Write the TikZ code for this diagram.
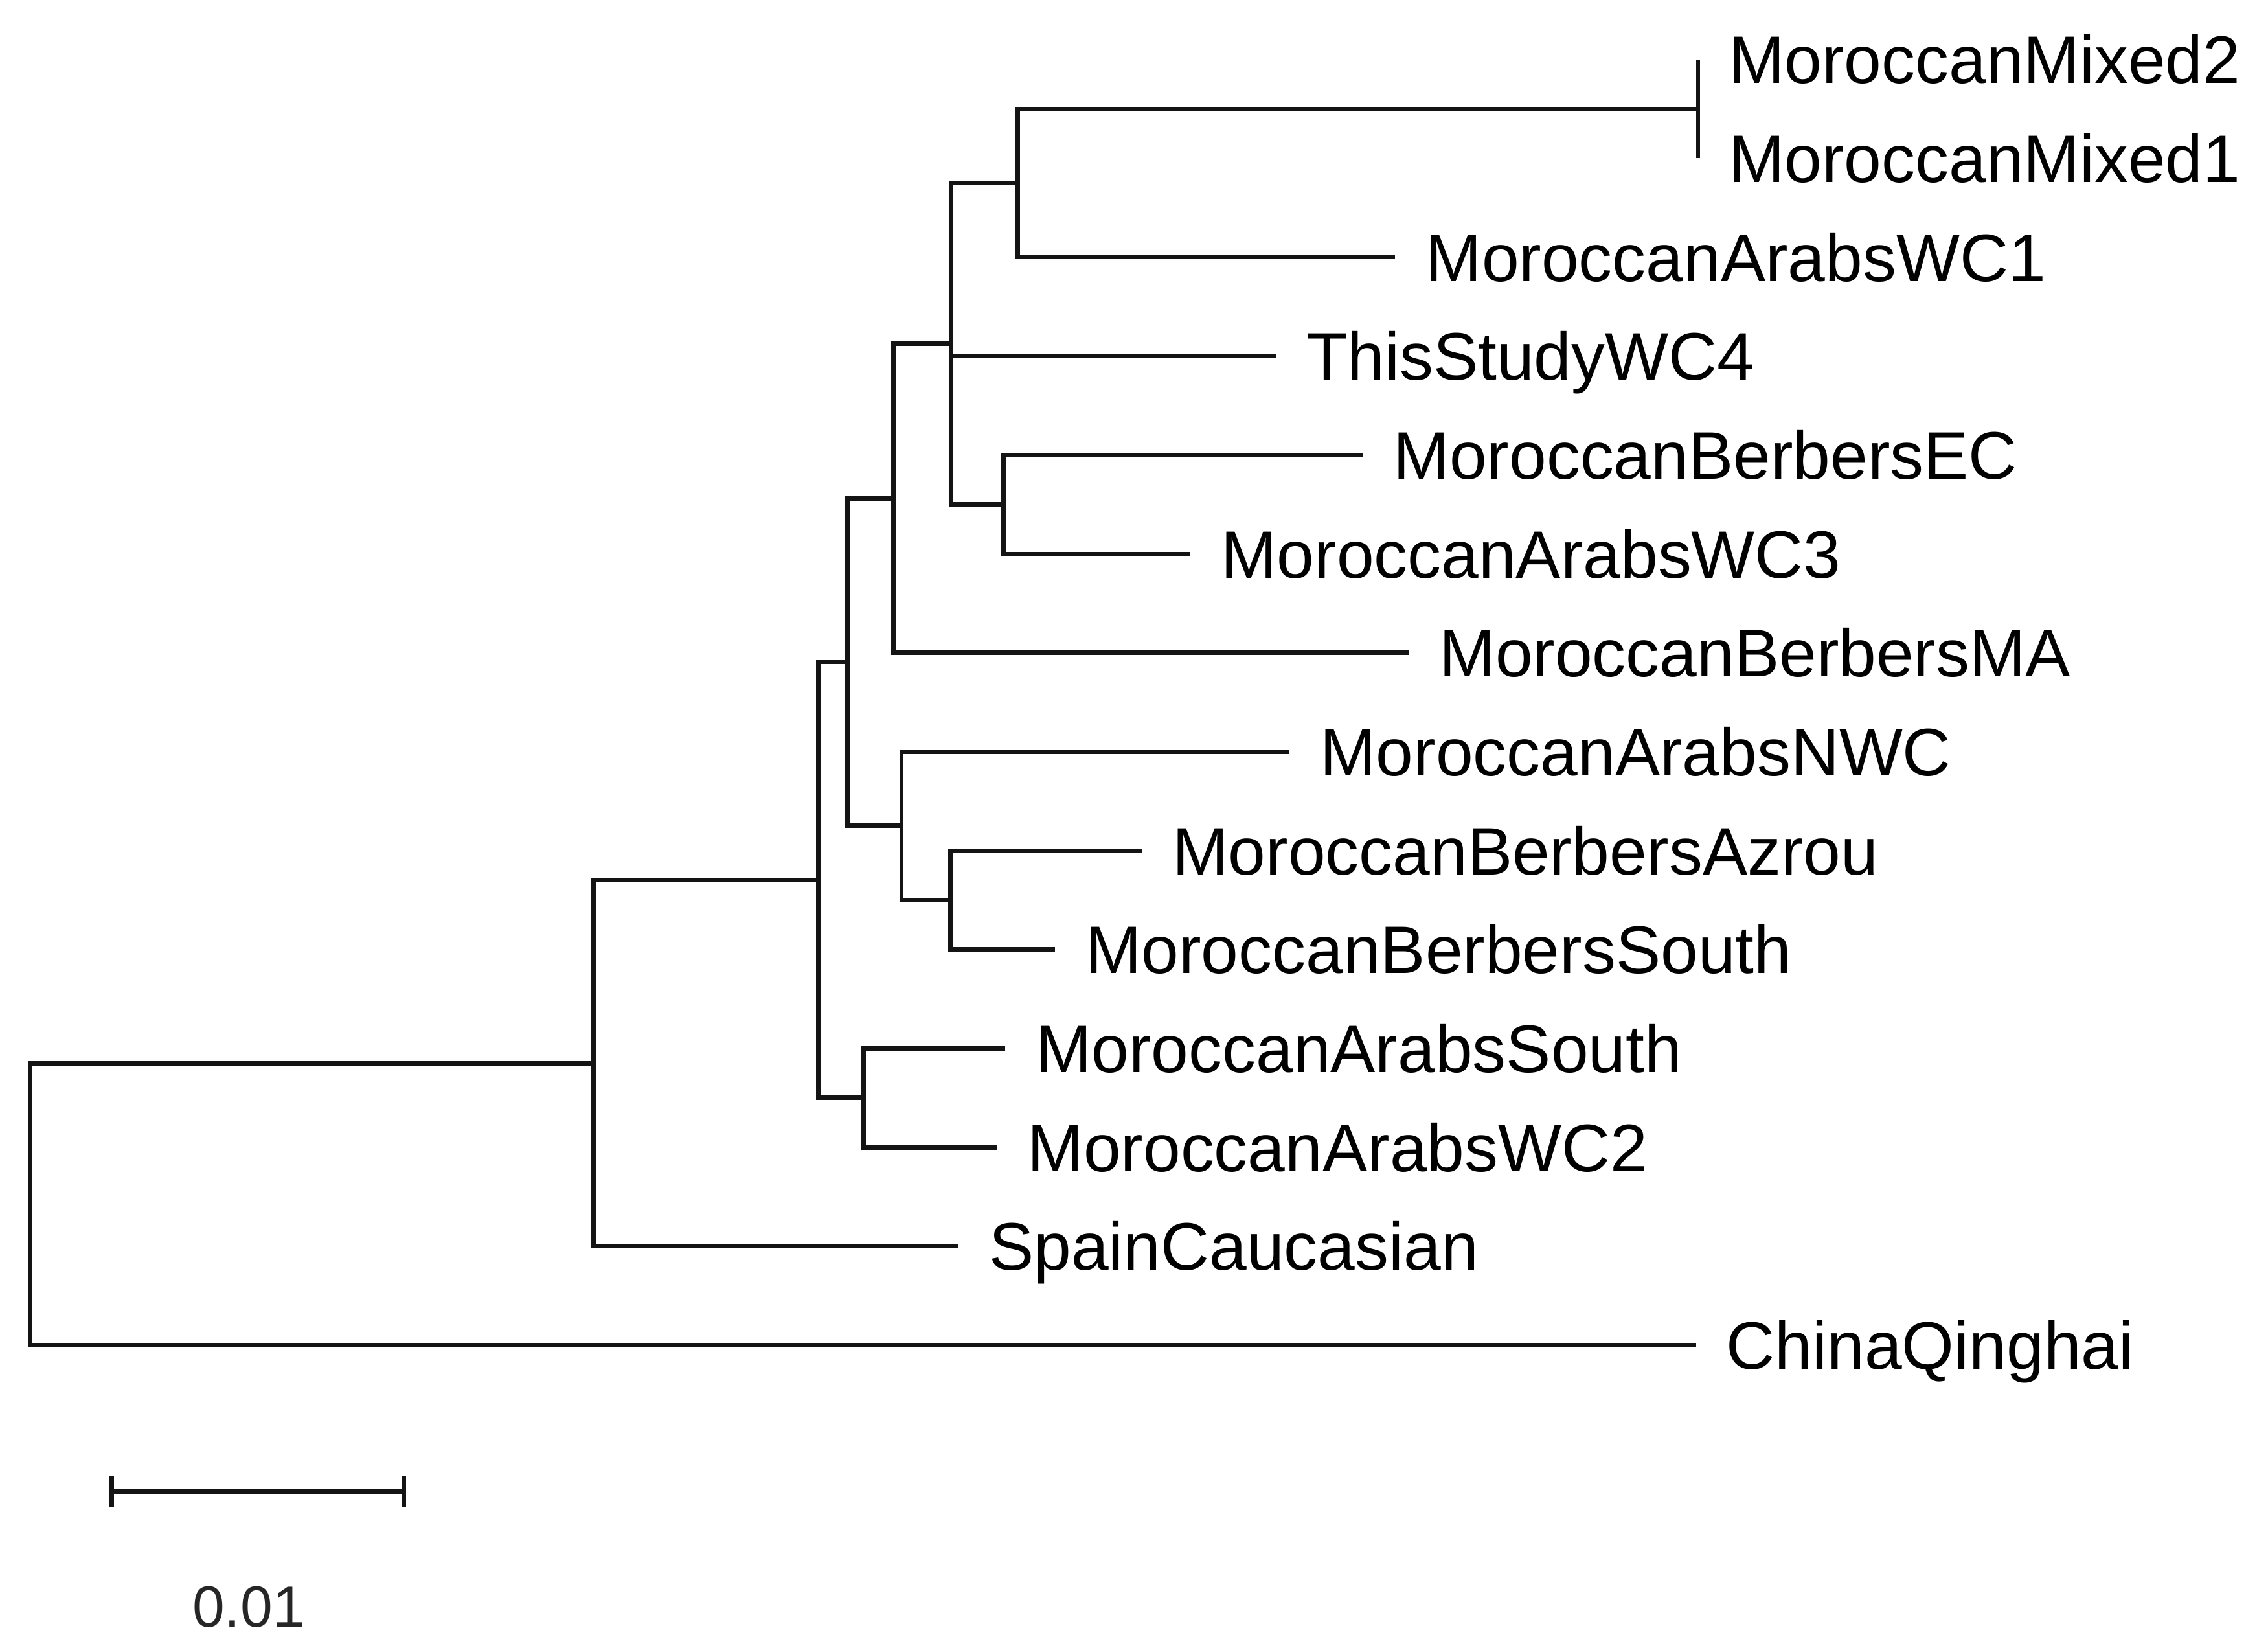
\documentclass[tikz,border=0pt]{standalone}
\usepackage{fontspec}
\setmainfont{Liberation Sans}
\begin{document}
\begin{tikzpicture}[x=0.05cm,y=-0.05cm,
  br/.style={line width=4.3pt, line join=miter, line cap=butt, black!92},
  leaf/.style={anchor=west, inner sep=0pt, text height=47.3pt, text depth=0pt, xshift=1.05cm,
    font=\fontsize{66.1pt}{71pt}\selectfont},
  scalelab/.style={anchor=center, inner sep=0pt, text height=40.8pt, text depth=0pt, text=black!85,
    font=\fontsize{57pt}{62pt}\selectfont}]
\useasboundingbox (0,0) rectangle (1568,1139);
% leaf tips
\coordinate (tM2) at (1174,41);
\coordinate (tM1) at (1174,109.4);
\coordinate (tWC1) at (964.6,177.7);
\coordinate (tWC4) at (882,246.1);
\coordinate (tEC) at (942.3,314.4);
\coordinate (tWC3) at (823,382.8);
\coordinate (tMA) at (974,451.2);
\coordinate (tNWC) at (891.6,519.5);
\coordinate (tAz) at (789.5,587.9);
\coordinate (tSo) at (729.4,656.2);
\coordinate (tAS) at (694.9,724.6);
\coordinate (tWC2) at (689.3,793);
\coordinate (tSp) at (662.7,861.3);
\coordinate (tCh) at (1172.5,929.7);
% internal nodes
\coordinate (nMix) at (1174,75.2);
\coordinate (nA) at (703.5,126.5);
\coordinate (nB) at (693.8,348.6);
\coordinate (nC) at (657.6,237.5);
\coordinate (nD) at (617.7,344.4);
\coordinate (nE) at (657,622);
\coordinate (nF) at (623.2,570.8);
\coordinate (nG) at (586,457.6);
\coordinate (nH) at (597.2,758.8);
\coordinate (nI) at (565.6,608.2);
\coordinate (nJ) at (410.3,734.8);
\coordinate (root) at (20.6,832);
% branches
\draw[br] (tM2) -- (tM1);
\draw[br] (nMix) -| (nA) |- (tWC1);
\draw[br] (nA) -| (nC) |- (nB);
\draw[br] (nC |- tWC4) -- (tWC4);
\draw[br] (tEC) -| (nB) |- (tWC3);
\draw[br] (nC) -| (nD) |- (tMA);
\draw[br] (tAz) -| (nE) |- (tSo);
\draw[br] (tNWC) -| (nF) |- (nE);
\draw[br] (nD) -| (nG) |- (nF);
\draw[br] (tAS) -| (nH) |- (tWC2);
\draw[br] (nG) -| (nI) |- (nH);
\draw[br] (nI) -| (nJ) |- (tSp);
\draw[br] (nJ) -| (root) |- (tCh);
% labels
\node[leaf] (lM2) at (tM2) {MoroccanMixed2};
\node[leaf] (lM1) at (tM1) {MoroccanMixed1};
\node[leaf] (lWC1) at (tWC1) {MoroccanArabsWC1};
\node[leaf] (lWC4) at (tWC4) {ThisStudyWC4};
\node[leaf] (lEC) at (tEC) {MoroccanBerbersEC};
\node[leaf] (lWC3) at (tWC3) {MoroccanArabsWC3};
\node[leaf] (lMA) at (tMA) {MoroccanBerbersMA};
\node[leaf] (lNWC) at (tNWC) {MoroccanArabsNWC};
\node[leaf] (lAz) at (tAz) {MoroccanBerbersAzrou};
\node[leaf] (lSo) at (tSo) {MoroccanBerbersSouth};
\node[leaf] (lAS) at (tAS) {MoroccanArabsSouth};
\node[leaf] (lWC2) at (tWC2) {MoroccanArabsWC2};
\node[leaf] (lSp) at (tSp) {SpainCaucasian};
\node[leaf] (lCh) at (tCh) {ChinaQinghai};
% scale bar
\coordinate (sbL) at (77.3,1031);
\coordinate (sbR) at (279.2,1031);
\draw[br] (sbL) -- (sbR);
\draw[br] ([yshift=0.53cm]sbL) -- ([yshift=-0.53cm]sbL);
\draw[br] ([yshift=0.53cm]sbR) -- ([yshift=-0.53cm]sbR);
\node[scalelab] (sbLab) at (172,1110) {0.01};
\end{tikzpicture}
\end{document}
